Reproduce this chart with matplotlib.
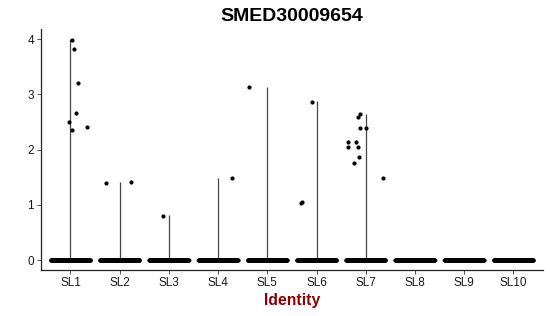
import matplotlib
matplotlib.use("Agg")
import matplotlib.pyplot as plt
import numpy as np

plt.rcParams["font.family"] = ["Liberation Sans", "DejaVu Sans"]

GENE = "SMED30009654"
GROUPS = ["SL1", "SL2", "SL3", "SL4", "SL5", "SL6", "SL7", "SL8", "SL9", "SL10"]

# max expression per group (violin reaches up to here)
VIOLIN_MAX = [4.0, 1.42, 0.81, 1.49, 3.14, 2.87, 2.65, 0.0, 0.0, 0.0]

# cells with zero expression in each group (drawn as the dense band at 0)
ZERO_COUNTS = [260, 260, 240, 250, 240, 230, 220, 240, 250, 250]

# non-zero cells: (group index, jitter offset, value)
NZ_GROUP = [0, 0, 0, 0, 0, 0, 0,
            1, 1,
            2,
            3,
            4,
            5, 5, 5,
            6, 6, 6, 6, 6, 6, 6, 6, 6, 6, 6]
NZ_JITTER = [0.03, 0.07, 0.16, 0.11, -0.03, 0.03, 0.33,
             -0.27, 0.22,
             -0.12,
             0.29,
             -0.37,
             -0.09, -0.30, -0.31,
             -0.12, -0.15, -0.11, 0.0, -0.36, -0.20, -0.36, -0.15, -0.13, -0.24, 0.36]
NZ_VALUE = [3.98, 3.82, 3.21, 2.66, 2.50, 2.35, 2.41,
            1.39, 1.42,
            0.80,
            1.49,
            3.13,
            2.86, 1.05, 1.04,
            2.64, 2.59, 2.39, 2.39, 2.13, 2.13, 2.05, 2.04, 1.86, 1.76, 1.49]

fig = plt.figure(figsize=(5.5, 3.16), dpi=100)
ax = fig.add_axes([0.0745, 0.1456, 0.9125, 0.7624])

pos = np.arange(1, len(GROUPS) + 1)

# violins collapse to thin lines since nearly all cells are 0
for x, top in zip(pos, VIOLIN_MAX):
    if top > 0:
        ax.vlines(x, 0, top, color="#444444", linewidth=0.9, zorder=1)

# zero band
for x, n in zip(pos, ZERO_COUNTS):
    xs = x + np.linspace(-0.4, 0.4, n)
    ax.scatter(xs, np.zeros(n), s=8, color="black", linewidths=0, zorder=2)

nz_x = pos[np.array(NZ_GROUP)] + np.array(NZ_JITTER)
ax.scatter(nz_x, NZ_VALUE, s=9, color="black", linewidths=0, zorder=3)

ax.set_xlim(0.4, 10.6)
ax.set_ylim(-0.18, 4.18)
ax.set_xticks(pos)
ax.set_xticklabels(GROUPS, fontsize=8.5, color="#1a1a1a")
ax.set_yticks([0, 1, 2, 3, 4])
ax.set_yticklabels(["0", "1", "2", "3", "4"], fontsize=8.5, color="#1a1a1a")
ax.tick_params(length=3, width=0.6, color="#333333", pad=2)

for side in ["top", "right"]:
    ax.spines[side].set_visible(False)
for side in ["left", "bottom"]:
    ax.spines[side].set_linewidth(0.9)
    ax.spines[side].set_color("#222222")

ax.set_title(GENE, fontsize=14, fontweight="bold", pad=6)
ax.set_xlabel("Identity", fontsize=11.3, fontweight="bold", color="#8B0000", labelpad=3)
ax.set_ylabel("")

fig.savefig("out.png", dpi=100)
